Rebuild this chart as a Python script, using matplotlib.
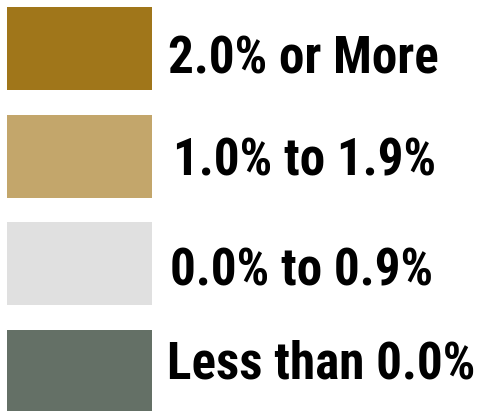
import matplotlib
matplotlib.use('Agg')
import matplotlib.pyplot as plt

# legend categories and their colours
labels = ['2.0% or More', '1.0% to 1.9%', '0.0% to 0.9%', 'Less than 0.0%']
colors = ['#A0761A', '#C3A66B', '#E0E0E0', '#647066']

# layout in pixel units
row_centers = [48.5, 156, 263.5, 371]
text_baselines = [73, 175, 285, 378]
text_x = [168, 173, 170, 167]

fig = plt.figure(figsize=(4.81, 4.11), dpi=100)
ax = fig.add_axes([0, 0, 1, 1])
ax.set_xlim(0, 481)
ax.set_ylim(411, 0)
ax.axis('off')

ax.barh(row_centers, 145, height=83, left=7, color=colors)

for lab, x, y in zip(labels, text_x, text_baselines):
    ax.text(x, y, lab, fontsize=36.8, fontweight='bold', va='baseline', ha='left',
            family=['Roboto Condensed', 'DejaVu Sans'])

fig.savefig('out.png', dpi=100)
